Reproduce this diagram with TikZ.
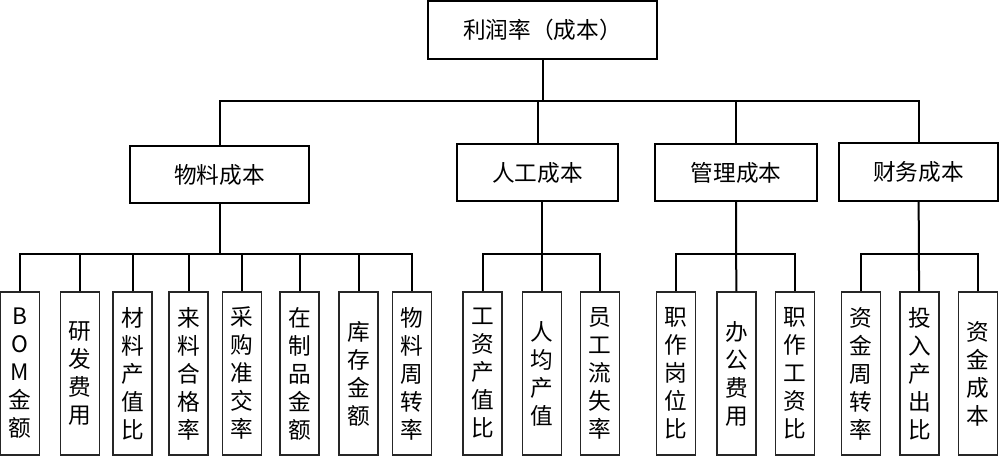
\documentclass[tikz,border=0pt]{standalone}
\usepackage{fontspec}
\setmainfont{Noto Sans CJK SC}
\usetikzlibrary{positioning}
\tikzset{
    Box/.style = {
        draw, line width=1.5pt, inner sep=0pt,
        minimum height=43pt,
        font=\fontsize{17}{20}\selectfont
    },
    Leaf/.style = {
        draw=black!85, line width=1.1pt, inner sep=0pt,
        minimum width=29pt, minimum height=122pt, align=center,
        font=\fontsize{17}{21}\selectfont
    },
    Link/.style = {line width=1.5pt}
}

\begin{document}
\begin{tikzpicture}[x=0.75pt, y=-0.75pt]
    \useasboundingbox (0,0) rectangle (1000,457);
    % top
    \node [Box, minimum width=172pt] (top) at (542.5,30) {利润率（成本）};
    % second level
    \node [Box, minimum width=134pt] (mat) at (219.5,174.5) {物料成本};
    \node [Box, minimum width=121pt] (lab) at (537.5,172.5) {人工成本};
    \node [Box, minimum width=121.5pt] (mgt) at (736,172.5) {管理成本};
    \node [Box, minimum width=119pt] (fin) at (918.5,172) {财务成本};
    % leaves
    \node [Leaf] (m1) at (20,373.5) {B\\O\\M\\金\\额};
    \node [Leaf] (m2) at (80,373.5) {研\\发\\费\\用};
    \node [Leaf] (m3) at (132.5,373.5) {材\\料\\产\\值\\比};
    \node [Leaf] (m4) at (188.5,373.5) {来\\料\\合\\格\\率};
    \node [Leaf] (m5) at (242,373.5) {采\\购\\准\\交\\率};
    \node [Leaf] (m6) at (299.5,373.5) {在\\制\\品\\金\\额};
    \node [Leaf] (m7) at (358.5,373.5) {库\\存\\金\\额};
    \node [Leaf] (m8) at (412,373.5) {物\\料\\周\\转\\率};
    \node [Leaf] (l1) at (482.5,373.5) {工\\资\\产\\值\\比};
    \node [Leaf] (l2) at (542,373.5) {人\\均\\产\\值};
    \node [Leaf] (l3) at (600,373.5) {员\\工\\流\\失\\率};
    \node [Leaf] (g1) at (676,373.5) {职\\作\\岗\\位\\比};
    \node [Leaf] (g2) at (736.5,373.5) {办\\公\\费\\用};
    \node [Leaf] (g3) at (795,373.5) {职\\作\\工\\资\\比};
    \node [Leaf] (f1) at (861,373.5) {资\\金\\周\\转\\率};
    \node [Leaf] (f2) at (919.5,373.5) {投\\入\\产\\出\\比};
    \node [Leaf] (f3) at (978,373.5) {资\\金\\成\\本};
    % junctions
    \coordinate [below=30.75pt of top] (J0);
    \coordinate [below=37.5pt of mat] (J1);
    \coordinate [below=39pt of lab.south -| l2] (J2);
    \coordinate [below=39pt of mgt] (J3);
    \coordinate [below=39pt of fin] (J4);
    % links
    \draw [Link] (top) -- (J0);
    \draw [Link] (mat.north) |- (J0) -| (fin.north);
    \draw [Link] (lab.north) -- (lab.north |- J0);
    \draw [Link] (mgt.north) -- (mgt.north |- J0);
    \draw [Link] (mat) -- (J1);
    \draw [Link] (m1.north) |- (J1) -| (m8.north);
    \draw [Link] (m2.north) -- (m2.north |- J1);
    \draw [Link] (m3.north) -- (m3.north |- J1);
    \draw [Link] (m4.north) -- (m4.north |- J1);
    \draw [Link] (m5.north) -- (m5.north |- J1);
    \draw [Link] (m6.north) -- (m6.north |- J1);
    \draw [Link] (m7.north) -- (m7.north |- J1);
    \draw [Link] (lab.south -| l2) -- (l2.north);
    \draw [Link] (l1.north) |- (J2) -| (l3.north);
    \draw [Link] (mgt) -- (g2);
    \draw [Link] (g1.north) |- (J3) -| (g3.north);
    \draw [Link] (fin) -- (f2);
    \draw [Link] (f1.north) |- (J4) -| (f3.north);
\end{tikzpicture}
\end{document}
